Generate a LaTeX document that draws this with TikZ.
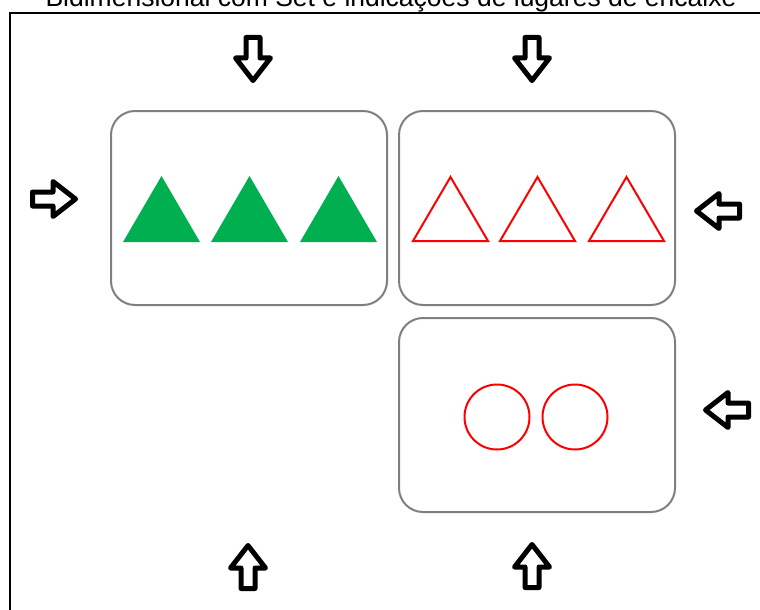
\documentclass[tikz,border=0pt]{standalone}
\usepackage{fontspec}
\setmainfont{Liberation Sans}
\usetikzlibrary{positioning}
\definecolor{slotgray}{HTML}{7F7F7F}
\definecolor{setgreen}{HTML}{00B050}

\begin{document}
\begin{tikzpicture}[x=1pt,y=-1pt]
\tikzset{
  fitarrow/.pic={\draw[line width=5pt,line join=round,fill=white] (-21.5,-7) -- (-1,-7) -- (-1,-17.5) -- (21.5,0) -- (-1,17.5) -- (-1,7) -- (-21.5,7) -- cycle;},
  slot/.style={draw=slotgray,line width=2pt,rounded corners=24pt,minimum width=276pt,minimum height=194pt,inner sep=0pt,outer sep=0pt}
}
\useasboundingbox (0,0) rectangle (760,610);

\coordinate (N1) at (253,59);
\coordinate (N2) at (532,59);
\coordinate (W1) at (54,199);
\coordinate (E1) at (718,211);
\coordinate (E2) at (727,410);
\coordinate (S1) at (248,567);
\coordinate (S2) at (532,566);

\node[anchor=base,font=\fontsize{26.5}{30}\selectfont] (title) at (391,7) {Bidimensional com Set e indicações de lugares de encaixe};
\draw[line width=2pt] (10,13) rectangle (790,640);

\node[slot] (boxA) at (249,208) {};
\node[slot, right=12pt of boxA] (boxB) {};
\node[slot, below=13pt of boxB] (boxC) {};

\foreach \x in {123,211,300}
  \fill[setgreen] (\x,242) -- ++(77,0) -- ++(-38.5,-66) -- cycle;
\foreach \x in {413,500,589}
  \draw[red,line width=2pt] (\x,241) -- ++(75,0) -- ++(-37.5,-64) -- cycle;

\draw[red,line width=2pt] (497,417) circle [radius=32.5pt];
\draw[red,line width=2pt] (575,417) circle [radius=32.5pt];

\pic[rotate=-90] at (N1) {fitarrow};
\pic[rotate=-90] at (N2) {fitarrow};
\pic at (W1) {fitarrow};
\pic[rotate=180] at (E1) {fitarrow};
\pic[rotate=180] at (E2) {fitarrow};
\pic[rotate=90] at (S1) {fitarrow};
\pic[rotate=90] at (S2) {fitarrow};
\end{tikzpicture}
\end{document}
